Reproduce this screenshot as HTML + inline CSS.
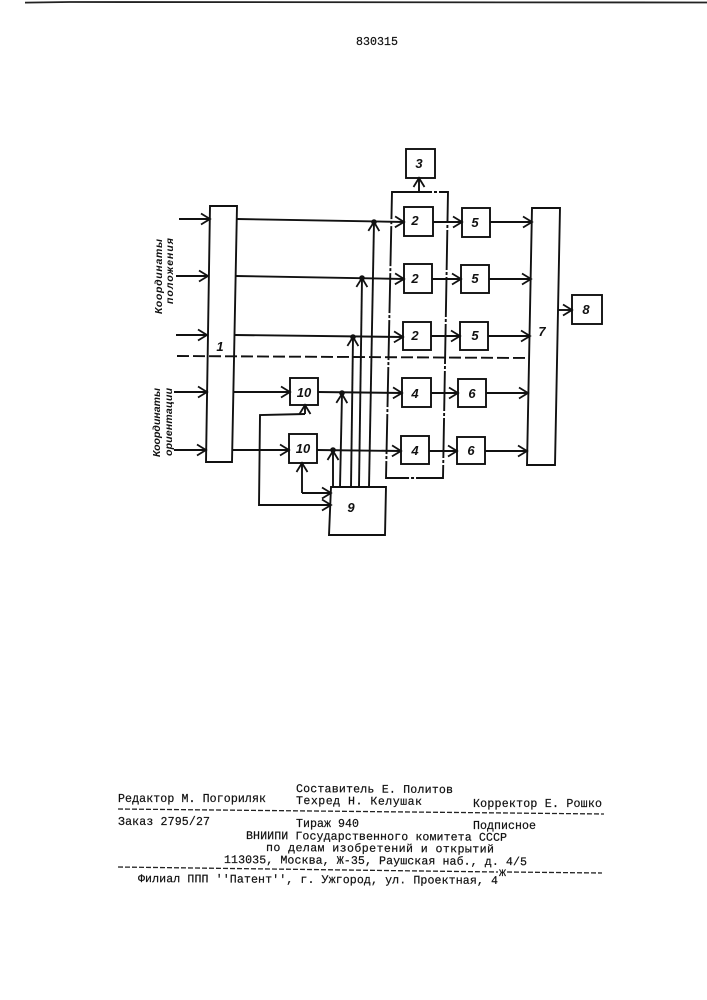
<!DOCTYPE html>
<html><head><meta charset="utf-8"><style>
html,body{margin:0;padding:0;background:#fff}
svg{display:block}
.t{font-family:"Liberation Mono",monospace;font-size:11.6px;fill:#111;stroke:#111;stroke-width:.2}
.v{font-family:"Liberation Sans",sans-serif;font-size:10.5px;font-style:italic;font-weight:bold;fill:#111}
.n{font-family:"Liberation Sans",sans-serif;font-size:13px;font-style:italic;font-weight:bold;fill:#111;text-anchor:middle}
</style></head><body>
<svg width="707" height="1000" viewBox="0 0 707 1000" xmlns="http://www.w3.org/2000/svg">
<defs><marker id="a" markerUnits="userSpaceOnUse" markerWidth="14" markerHeight="14" refX="12" refY="7" orient="auto"><path d="M3 1.5L12 7L3 12.5" fill="none" stroke="#111" stroke-width="1.8"/></marker></defs>
<rect width="707" height="1000" fill="#fff"/>
<path d="M25 2.6L70 2L707 2.5" stroke="#222" stroke-width="1.8" fill="none"/>
<g fill="none" stroke="#111" stroke-width="1.9">
<!-- large blocks -->
<path d="M210 206H237L232 462H206Z"/>
<path d="M532 208H560L555 465H527Z"/>
<!-- small boxes -->
<rect x="406" y="149" width="29" height="29"/>
<rect x="404" y="207" width="29" height="29"/>
<rect x="404" y="264" width="28" height="29"/>
<rect x="403" y="322" width="28" height="28"/>
<rect x="402" y="378" width="29" height="29"/>
<rect x="401" y="436" width="28" height="28"/>
<rect x="462" y="208" width="28" height="29"/>
<rect x="461" y="265" width="28" height="28"/>
<rect x="460" y="322" width="28" height="28"/>
<rect x="458" y="379" width="28" height="28"/>
<rect x="457" y="437" width="28" height="27"/>
<rect x="290" y="378" width="28" height="27"/>
<rect x="289" y="434" width="28" height="29"/>
<rect x="572" y="295" width="30" height="29"/>
<path d="M331 487H386L385 535H329Z"/>
<!-- dash-dot enclosure -->
<path d="M392 192H448L443 478H386Z" stroke-dasharray="40 2 3 2"/>
<!-- dashed -->
<path d="M177 356L528 358" stroke-dasharray="12 4"/>
<!-- inputs -->
<path d="M179 219H210" marker-end="url(#a)"/>
<path d="M176 276H208" marker-end="url(#a)"/>
<path d="M176 335H207" marker-end="url(#a)"/>
<path d="M174 392H207" marker-end="url(#a)"/>
<path d="M174 450H206" marker-end="url(#a)"/>
<!-- outputs of 1 -->
<path d="M237 219L404 222" marker-end="url(#a)"/>
<path d="M236 276L404 279" marker-end="url(#a)"/>
<path d="M235 335L403 337" marker-end="url(#a)"/>
<path d="M233 392H290" marker-end="url(#a)"/>
<path d="M232 450H289" marker-end="url(#a)"/>
<!-- outputs of 10 -->
<path d="M318 392L402 393" marker-end="url(#a)"/>
<path d="M317 450L401 451" marker-end="url(#a)"/>
<!-- 2,4 to 5,6 -->
<path d="M433 222H462" marker-end="url(#a)"/>
<path d="M432 279H461" marker-end="url(#a)"/>
<path d="M431 336H460" marker-end="url(#a)"/>
<path d="M431 393H458" marker-end="url(#a)"/>
<path d="M429 451H457" marker-end="url(#a)"/>
<!-- 5,6 to 7 -->
<path d="M490 222L532 222" marker-end="url(#a)"/>
<path d="M489 279H531" marker-end="url(#a)"/>
<path d="M488 336H530" marker-end="url(#a)"/>
<path d="M486 393H528" marker-end="url(#a)"/>
<path d="M485 451H527" marker-end="url(#a)"/>
<!-- 7 to 8, to 3 -->
<path d="M558 310H572" marker-end="url(#a)"/>
<path d="M419 192V178" marker-end="url(#a)"/>
<!-- verticals from 9 -->
<path d="M333 487L333 451" marker-end="url(#a)"/>
<path d="M340 487L342 394" marker-end="url(#a)"/>
<path d="M351 487L353 337" marker-end="url(#a)"/>
<path d="M359 487L362 278" marker-end="url(#a)"/>
<path d="M369 487L374 222" marker-end="url(#a)"/>
<!-- feedback -->
<path d="M305 414L260 415L259 505H331" marker-end="url(#a)"/>
<path d="M305 414V405" marker-end="url(#a)"/>
<path d="M302 493H331" marker-end="url(#a)"/>
<path d="M302 493V463" marker-end="url(#a)"/>
</g>
<g fill="#111">
<circle cx="374" cy="222" r="2.8"/><circle cx="362" cy="278" r="2.8"/><circle cx="353" cy="337" r="2.8"/>
<circle cx="342" cy="393" r="2.8"/><circle cx="333" cy="450" r="2.8"/>
</g>
<text class="n" x="220" y="351">1</text>
<text class="n" x="415" y="225">2</text><text class="n" x="415" y="283">2</text><text class="n" x="415" y="340">2</text>
<text class="n" x="419" y="168">3</text>
<text class="n" x="415" y="398">4</text><text class="n" x="415" y="455">4</text>
<text class="n" x="475" y="227">5</text><text class="n" x="475" y="283">5</text><text class="n" x="475" y="340">5</text>
<text class="n" x="472" y="398">6</text><text class="n" x="471" y="455">6</text>
<text class="n" x="542" y="336">7</text><text class="n" x="586" y="314">8</text>
<text class="n" x="351" y="512">9</text>
<text class="n" x="304" y="397">10</text><text class="n" x="303" y="453">10</text>
<!-- vertical labels -->
<text class="v" transform="translate(162 314) rotate(-90)" textLength="75" lengthAdjust="spacing">Координаты</text>
<text class="v" transform="translate(173 304) rotate(-90)" textLength="66" lengthAdjust="spacing">положения</text>
<text class="v" transform="translate(160 457) rotate(-90)" textLength="69" lengthAdjust="spacing">Координаты</text>
<text class="v" transform="translate(172 456) rotate(-90)" textLength="68" lengthAdjust="spacing">ориентации</text>
<!-- text -->
<text class="t" x="356" y="45" textLength="42">830315</text>
<text class="t" x="296" y="792" textLength="157" transform="rotate(.4 296 792)">Составитель Е. Политов</text>
<text class="t" x="118" y="802" textLength="148">Редактор М. Погориляк</text>
<text class="t" x="296" y="804" textLength="126" transform="rotate(.4 296 804)">Техред  Н. Келушак</text>
<text class="t" x="473" y="807" textLength="129">Корректор  Е. Рошко</text>
<path d="M118 809L604 814" stroke="#222" stroke-width="1.3" stroke-dasharray="5 2" fill="none"/>
<text class="t" x="118" y="825" textLength="92">Заказ 2795/27</text>
<text class="t" x="296" y="827" textLength="63">Тираж 940</text>
<text class="t" x="473" y="829" textLength="63">Подписное</text>
<text class="t" x="246" y="839" textLength="261" transform="rotate(.4 246 839)">ВНИИПИ Государственного комитета СССР</text>
<text class="t" x="266" y="851" textLength="228" transform="rotate(.4 266 851)">по делам изобретений и открытий</text>
<text class="t" x="224" y="863" textLength="303" transform="rotate(.4 224 863)">113035, Москва, Ж-35, Раушская наб., д. 4/5</text>
<path d="M118 867L498 872M507 872L602 873" stroke="#222" stroke-width="1.3" stroke-dasharray="5 2" fill="none"/>
<text class="t" x="499" y="876">ж</text>
<text class="t" x="138" y="882" textLength="360" transform="rotate(.3 138 882)">Филиал ППП ''Патент'', г. Ужгород, ул. Проектная, 4</text>
</svg>
</body></html>
